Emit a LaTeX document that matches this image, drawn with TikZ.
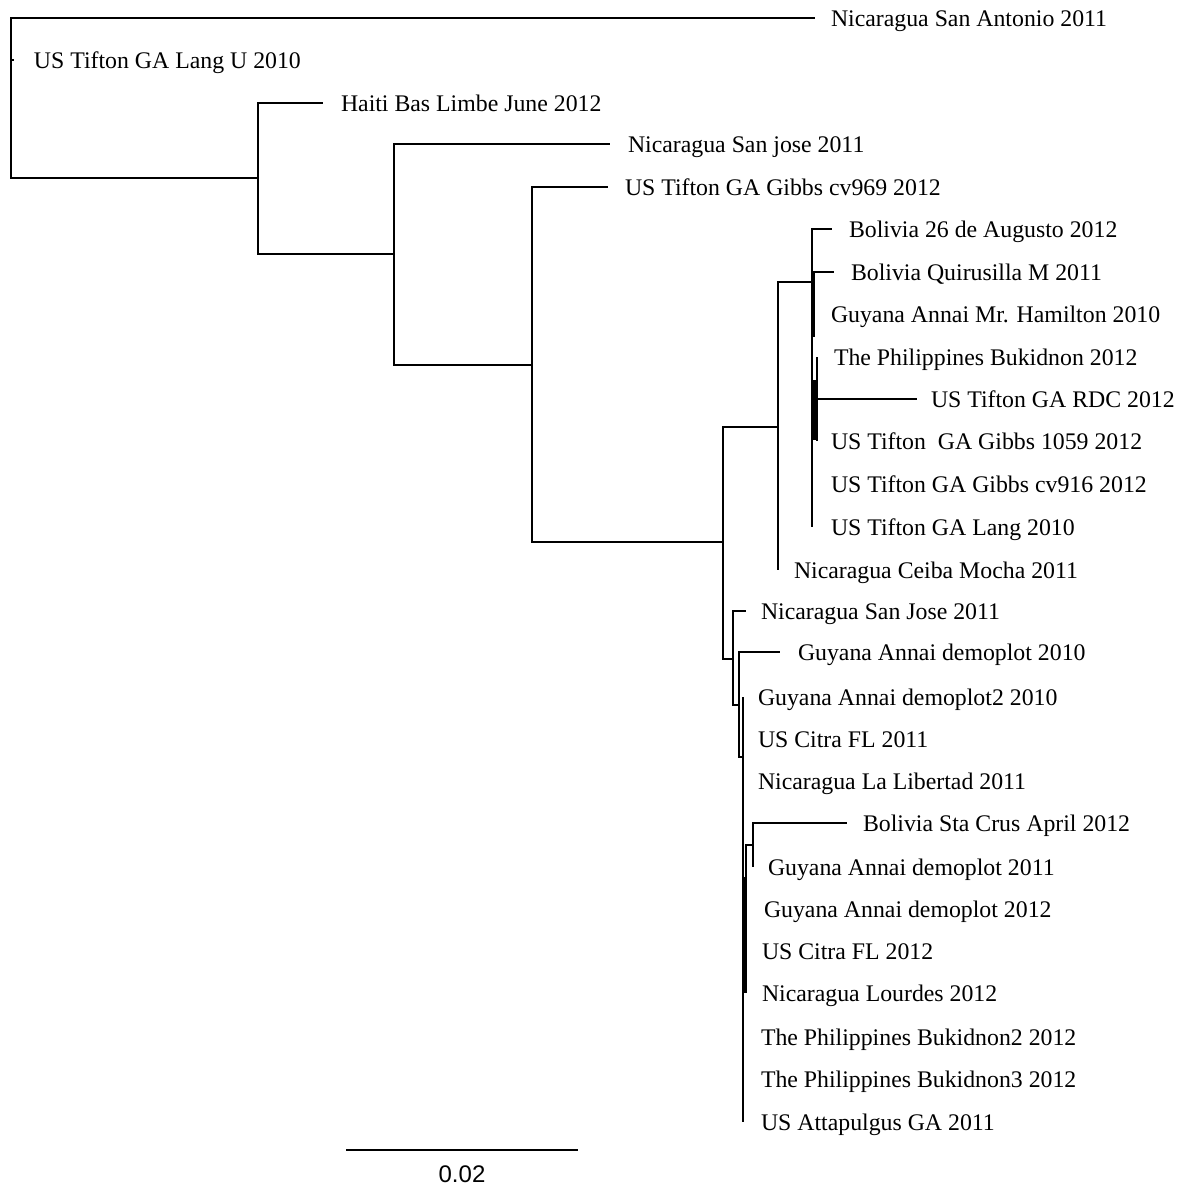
\documentclass[tikz,border=0pt]{standalone}
\usepackage{fontspec}
\setmainfont{Liberation Serif}
\newfontfamily\barfont{Liberation Sans}
\newcommand{\branchwidth}{2pt}
\newcommand{\taxon}[5]{%
    \coordinate (#1) at (#2, #3);
    \node[taxon label] (#1-name) at (#4, #3+8) {#5};
}

\begin{document}
\begin{tikzpicture}[x=1pt, y=-1pt, line width=\branchwidth,
    taxon label/.style={anchor=base west, inner sep=0pt, font=\fontsize{23.8}{28}\selectfont},
    heavy/.style={line width=4pt}]
\useasboundingbox (0,0) rectangle (1186,1189);

% internal node coordinates
\coordinate (r) at (11, 98);
\coordinate (n1) at (258, 178);
\coordinate (n2) at (394, 254);
\coordinate (n3) at (532, 365);
\coordinate (n4) at (723, 542);
\coordinate (n5) at (778, 427);
\coordinate (n6) at (812, 282);
\coordinate (n7) at (817, 399);
\coordinate (n8) at (733, 659);
\coordinate (n9) at (739, 705);
\coordinate (n10) at (743, 757);
\coordinate (n11) at (746, 919);
\coordinate (n12) at (753, 845);

% tips and names
\taxon{t01}{815}{18}{830}{Nicaragua San Antonio 2011}
\taxon{t02}{14}{60}{33}{US Tifton GA Lang U 2010}
\taxon{t03}{323}{103}{340}{Haiti Bas Limbe June 2012}
\taxon{t04}{610}{144}{627}{Nicaragua San jose 2011}
\taxon{t05}{608}{187}{624}{US Tifton GA Gibbs cv969 2012}
\taxon{t06}{832}{229}{848}{Bolivia 26 de Augusto 2012}
\taxon{t07}{834}{272}{850}{Bolivia Quirusilla M 2011}
\taxon{t08}{812}{314}{830}{Guyana Annai Mr. Hamilton 2010}
\taxon{t09}{817}{357}{833}{The Philippines Bukidnon 2012}
\taxon{t10}{917}{399}{930}{US Tifton GA RDC 2012}
\taxon{t11}{817}{441}{830}{US Tifton\ \ GA Gibbs 1059 2012}
\taxon{t12}{812}{484}{830}{US Tifton GA Gibbs cv916 2012}
\taxon{t13}{812}{527}{830}{US Tifton GA Lang 2010}
\taxon{t14}{778}{570}{793}{Nicaragua Ceiba Mocha 2011}
\taxon{t15}{746}{611}{760}{Nicaragua San Jose 2011}
\taxon{t16}{780}{652}{797}{Guyana Annai demoplot 2010}
\taxon{t17}{743}{697}{757}{Guyana Annai demoplot2 2010}
\taxon{t18}{743}{739}{757}{US Citra FL 2011}
\taxon{t19}{743}{781}{757}{Nicaragua La Libertad 2011}
\taxon{t20}{847}{823}{862}{Bolivia Sta Crus April 2012}
\taxon{t21}{753}{867}{767}{Guyana Annai demoplot 2011}
\taxon{t22}{746}{909}{763}{Guyana Annai demoplot 2012}
\taxon{t23}{746}{951}{761}{US Citra FL 2012}
\taxon{t24}{746}{993}{761}{Nicaragua Lourdes 2012}
\taxon{t25}{743}{1037}{760}{The Philippines Bukidnon2 2012}
\taxon{t26}{743}{1079}{760}{The Philippines Bukidnon3 2012}
\taxon{t27}{743}{1122}{760}{US Attapulgus GA 2011}

% branches
\foreach \child in {t01, t02, n1}
    \draw (r) |- (\child);
\foreach \child in {t03, n2}
    \draw (n1) |- (\child);
\foreach \child in {t04, n3}
    \draw (n2) |- (\child);
\foreach \child in {t05, n4}
    \draw (n3) |- (\child);
\foreach \child in {n5, n8}
    \draw (n4) |- (\child);
\foreach \child in {n6, t14}
    \draw (n5) |- (\child);
\foreach \child in {t06, t07, t08, n7, t12, t13}
    \draw (n6) |- (\child);
\foreach \child in {t09, t10, t11}
    \draw (n7) |- (\child);
\foreach \child in {t15, n9}
    \draw (n8) |- (\child);
\foreach \child in {t16, n10}
    \draw (n9) |- (\child);
\foreach \child in {t17, t18, t19, n11, t25, t26, t27}
    \draw (n10) |- (\child);
\foreach \child in {n12, t22, t23, t24}
    \draw (n11) |- (\child);
\foreach \child in {t20, t21}
    \draw (n12) |- (\child);

% overlapping short branches
\draw[heavy] (813, 272) -- (813, 337);
\draw[heavy] (815, 380) -- (815, 440);
\draw[heavy] (744, 877) -- (744, 993);

% scale bar
\coordinate (sb1) at (346, 1150);
\coordinate (sb2) at (578, 1150);
\draw (sb1) -- (sb2);
\node[anchor=base, inner sep=0pt, font=\barfont\fontsize{24}{28}\selectfont] (sblabel) at (462, 1182) {0.02};

\end{tikzpicture}
\end{document}
